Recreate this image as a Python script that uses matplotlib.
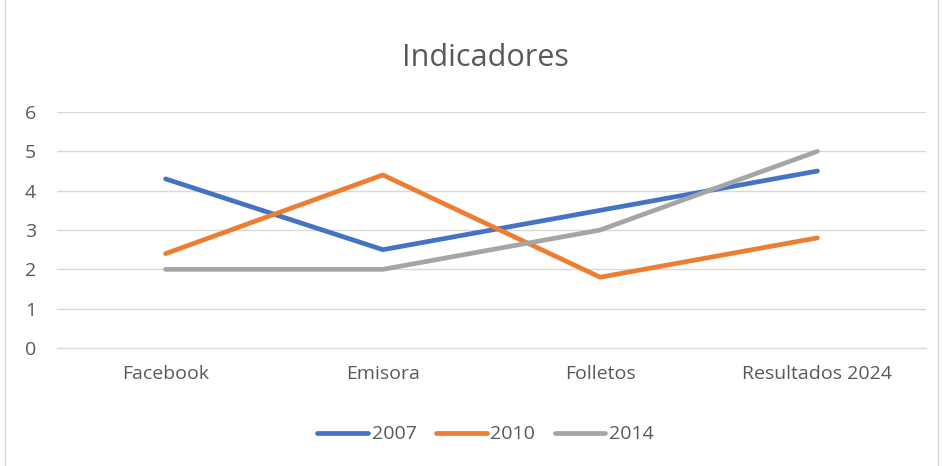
import matplotlib
matplotlib.use("Agg")
import matplotlib.pyplot as plt
from matplotlib.patches import Rectangle

categories = ["Facebook", "Emisora", "Folletos", "Resultados 2024"]
series_names = ["2007", "2010", "2014"]
v2007 = [4.3, 2.5, 3.5, 4.5]
v2010 = [2.4, 4.4, 1.8, 2.8]
v2014 = [2.0, 2.0, 3.0, 5.0]
yticks = [0, 1, 2, 3, 4, 5, 6]

colors = ["#4472C4", "#ED7D31", "#A5A5A5"]
txt = "#595959"

plt.rcParams['font.family'] = ['Open Sans', 'DejaVu Sans']

fig = plt.figure(figsize=(9.43, 4.66), dpi=100)
ax = fig.add_axes([0.0604, 0.2532, 0.9216, 0.5064])

x = list(range(len(categories)))
for vals, name, c in zip([v2007, v2010, v2014], series_names, colors):
    ax.plot(x, vals, color=c, lw=3.4, label=name, solid_capstyle="round")

ax.set_xlim(-0.5, len(categories) - 0.5)
ax.set_ylim(0, 6)
ax.set_yticks(yticks)
ax.set_xticks(x)
ax.set_xticklabels(categories)
ax.grid(axis="y", color="#D9D9D9", lw=1)
ax.set_axisbelow(True)
for s in ["top", "right", "left"]:
    ax.spines[s].set_visible(False)
ax.spines["bottom"].set_color("#D9D9D9")
ax.tick_params(axis="both", length=0, colors=txt, labelsize=14)
ax.tick_params(axis="x", pad=12)
ax.tick_params(axis="y", pad=15)

fig.text(0.515, 0.875, "Indicadores", ha="center", va="center", fontsize=22, color=txt)

fig.legend(loc="center", bbox_to_anchor=(0.515, 0.068), ncol=3, frameon=False,
           fontsize=14, labelcolor=txt, handlelength=2.6, columnspacing=1.0,
           handletextpad=0.2)

fig.patches.append(Rectangle((0.005, -0.01), 0.99, 1.02, transform=fig.transFigure,
                             fill=False, edgecolor="#D9D9D9", lw=1))

fig.savefig("out.png", dpi=100, facecolor="white")
